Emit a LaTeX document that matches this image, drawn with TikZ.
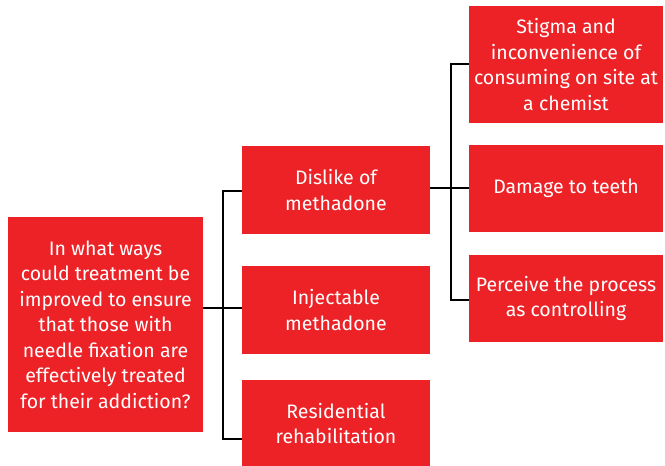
\documentclass[tikz,border=0pt]{standalone}
\usepackage{fontspec}
\setmainfont{Fira Sans}
\definecolor{boxred}{HTML}{EC2227}
\begin{document}
\begin{tikzpicture}[x=1pt,y=-1pt,
  box/.style={draw=none,fill=boxred,text=white,align=center,inner sep=0pt,
    font=\fontsize{19.5}{25.5}\selectfont},
  link/.style={draw=black,line width=2pt}]
\useasboundingbox (0,0) rectangle (665,466);
\node[box,minimum width=195pt,minimum height=215pt] (q) at (105.5,324.5)
  {In what ways\\could treatment be\\improved to ensure\\that those with\\needle fixation are\\effectively treated\\for their addiction?};
\node[box,minimum width=188pt,minimum height=88pt] (m1) at (336,190) {Dislike of\\methadone};
\node[box,minimum width=188pt,minimum height=88pt] (m2) at (336,310) {Injectable\\methadone};
\node[box,minimum width=188pt,minimum height=87pt] (m3) at (336,423.5) {Residential\\rehabilitation};
\node[box,minimum width=194pt,minimum height=116.7pt] (r1) at (566,64.3) {Stigma and\\inconvenience of\\consuming on site at\\a chemist};
\node[box,minimum width=194pt,minimum height=87pt] (r2) at (566,188.7) {Damage to teeth};
\node[box,minimum width=194pt,minimum height=87pt] (r3) at (566,298.7) {Perceive the process\\as controlling};
% first level junction
\coordinate (ja) at (222.7,308);
\coordinate (jt) at (222.7,190.5);
\coordinate (jb) at (222.7,439);
\draw[link] (q.east |- ja) -- (m2.west |- ja);
\draw[link] (m1.west |- jt) -- (jt) -- (jb) -- (m3.west |- jb);
% second level junction
\coordinate (kb) at (450.5,187.5);
\coordinate (kt) at (450.5,63.5);
\coordinate (kd) at (450.5,300);
\draw[link] (m1.east |- kb) -- (r2.west |- kb);
\draw[link] (r1.west |- kt) -- (kt) -- (kd) -- (r3.west |- kd);
\end{tikzpicture}
\end{document}
